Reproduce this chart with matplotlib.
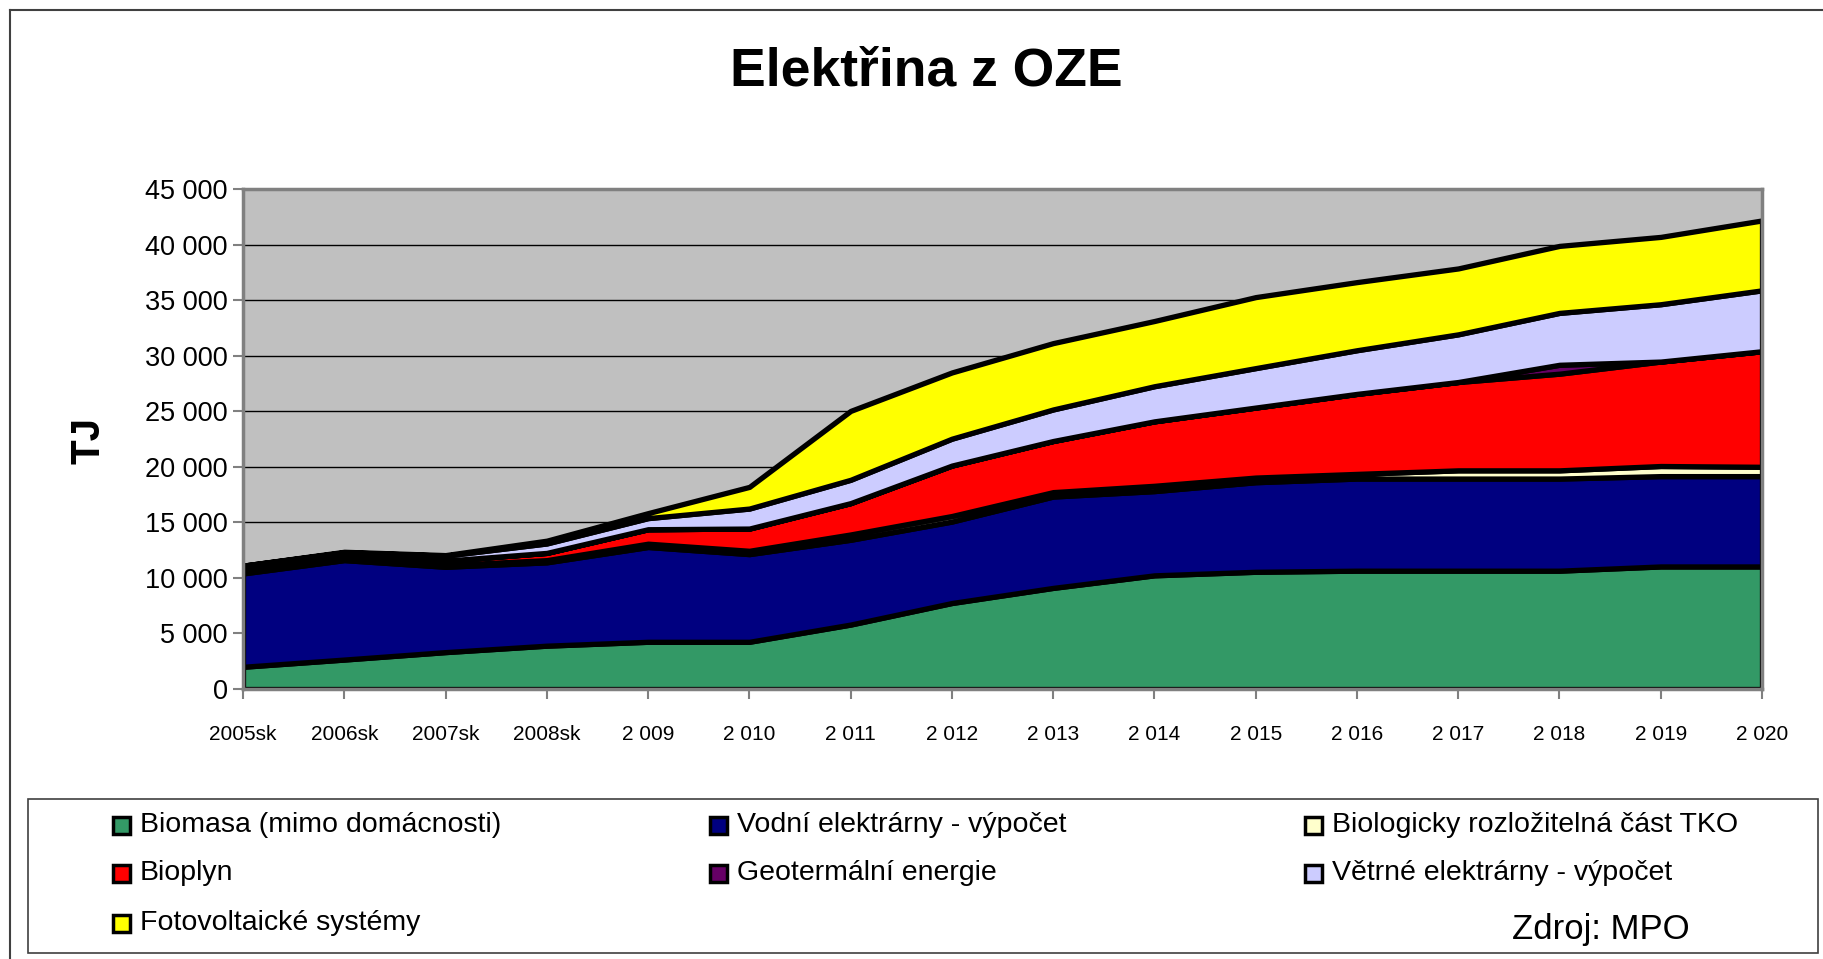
import matplotlib
matplotlib.use('Agg')
import matplotlib.pyplot as plt
from matplotlib.patches import Rectangle
from matplotlib.lines import Line2D

plt.rcParams['font.family'] = ['Liberation Sans', 'DejaVu Sans']

W, H = 1823, 959

years = ['2005sk', '2006sk', '2007sk', '2008sk', '2 009', '2 010', '2 011', '2 012',
         '2 013', '2 014', '2 015', '2 016', '2 017', '2 018', '2 019', '2 020']

biomasa = [2000, 2650, 3320, 3900, 4250, 4250, 5800, 7740, 9100, 10230, 10550, 10650, 10650, 10650, 11030, 11030]
vodni = [8400, 8950, 7680, 7500, 8530, 7890, 7630, 7330, 8220, 7580, 8060, 8290, 8290, 8290, 8130, 8130]
tko = [100, 100, 150, 200, 300, 300, 480, 500, 400, 480, 420, 420, 740, 740, 910, 840]
bioplyn = [400, 350, 400, 650, 1300, 2000, 2820, 4540, 4600, 5800, 6300, 7200, 7950, 8700, 9400, 10400]
geotermalni = [0, 0, 0, 0, 0, 0, 0, 0, 0, 0, 0, 0, 0, 800, 0, 0]
vetrne = [200, 250, 450, 850, 1000, 1800, 2100, 2420, 2840, 3160, 3550, 3930, 4290, 4670, 5160, 5480]
fotovoltaika = [0, 50, 50, 250, 450, 1950, 6200, 5960, 5970, 5870, 6390, 6130, 5930, 6030, 6060, 6290]

names = ['Biomasa (mimo domácnosti)', 'Vodní elektrárny - výpočet', 'Biologicky rozložitelná část TKO',
         'Bioplyn', 'Geotermální energie', 'Větrné elektrárny - výpočet', 'Fotovoltaické systémy']
colors = ['#339966', '#000080', '#FFFFCC', '#FF0000', '#660066', '#CCCCFF', '#FFFF00']
series = [biomasa, vodni, tko, bioplyn, geotermalni, vetrne, fotovoltaika]


def fx(px):
    return px / W


def fy(py):
    return 1 - py / H


fig = plt.figure(figsize=(W / 100, H / 100), dpi=100)
fig.patch.set_facecolor('white')

# outer chart frame
fig.add_artist(Line2D([fx(10), 1], [fy(10), fy(10)], color='#404040', lw=1.5))
fig.add_artist(Line2D([fx(10), fx(10)], [fy(10), 0], color='#404040', lw=1.5))

ax = fig.add_axes([fx(243), fy(689), fx(1762) - fx(243), fy(189) - fy(689)])
ax.set_facecolor('#C0C0C0')

x = list(range(len(years)))
ax.stackplot(x, *series, colors=colors, edgecolor='black', linewidth=3.8, zorder=3)

ax.set_xlim(0, len(years) - 1)
ax.set_ylim(0, 45000)
ax.set_yticks(range(0, 45001, 5000))
ax.set_yticklabels([f'{v:,}'.replace(',', ' ') for v in range(0, 45001, 5000)], fontsize=19.5)
ax.set_xticks(x)
ax.set_xticklabels(years, fontsize=15)
ax.yaxis.grid(True, color='black', lw=1)
ax.set_axisbelow(True)
ax.tick_params(axis='both', direction='out', length=7, width=1.5, color='#808080')
ax.tick_params(axis='x', pad=19)
ax.tick_params(axis='y', pad=4)
for s in ax.spines.values():
    s.set_color('#808080')
    s.set_linewidth(2.5)
    s.set_zorder(4)

fig.text(fx(926), fy(72), 'Elektřina z OZE', fontsize=38.5, fontweight='bold', ha='center', va='center')
fig.text(fx(88), fy(440), 'TJ', fontsize=29, fontweight='bold', rotation=90, ha='center', va='center')

# legend box
fig.add_artist(Rectangle((fx(28), fy(953)), fx(1818) - fx(28), fy(799) - fy(953),
                         transform=fig.transFigure, facecolor='white', edgecolor='#404040', lw=1.2))
col_x = [140, 737, 1332]
row_y = [825, 873, 923]
for i, (name, c) in enumerate(zip(names, colors)):
    tx = col_x[i % 3]
    ty = row_y[i // 3]
    fig.add_artist(Rectangle((fx(tx - 27), fy(ty + 9)), fx(17), 17 / H,
                             transform=fig.transFigure, facecolor=c, edgecolor='black', lw=2.5))
    fig.text(fx(tx), fy(ty), name, fontsize=20.5, ha='left', va='center')

fig.text(fx(1601), fy(930), 'Zdroj: MPO', fontsize=25, ha='center', va='center')

fig.savefig('out.png', dpi=100)
